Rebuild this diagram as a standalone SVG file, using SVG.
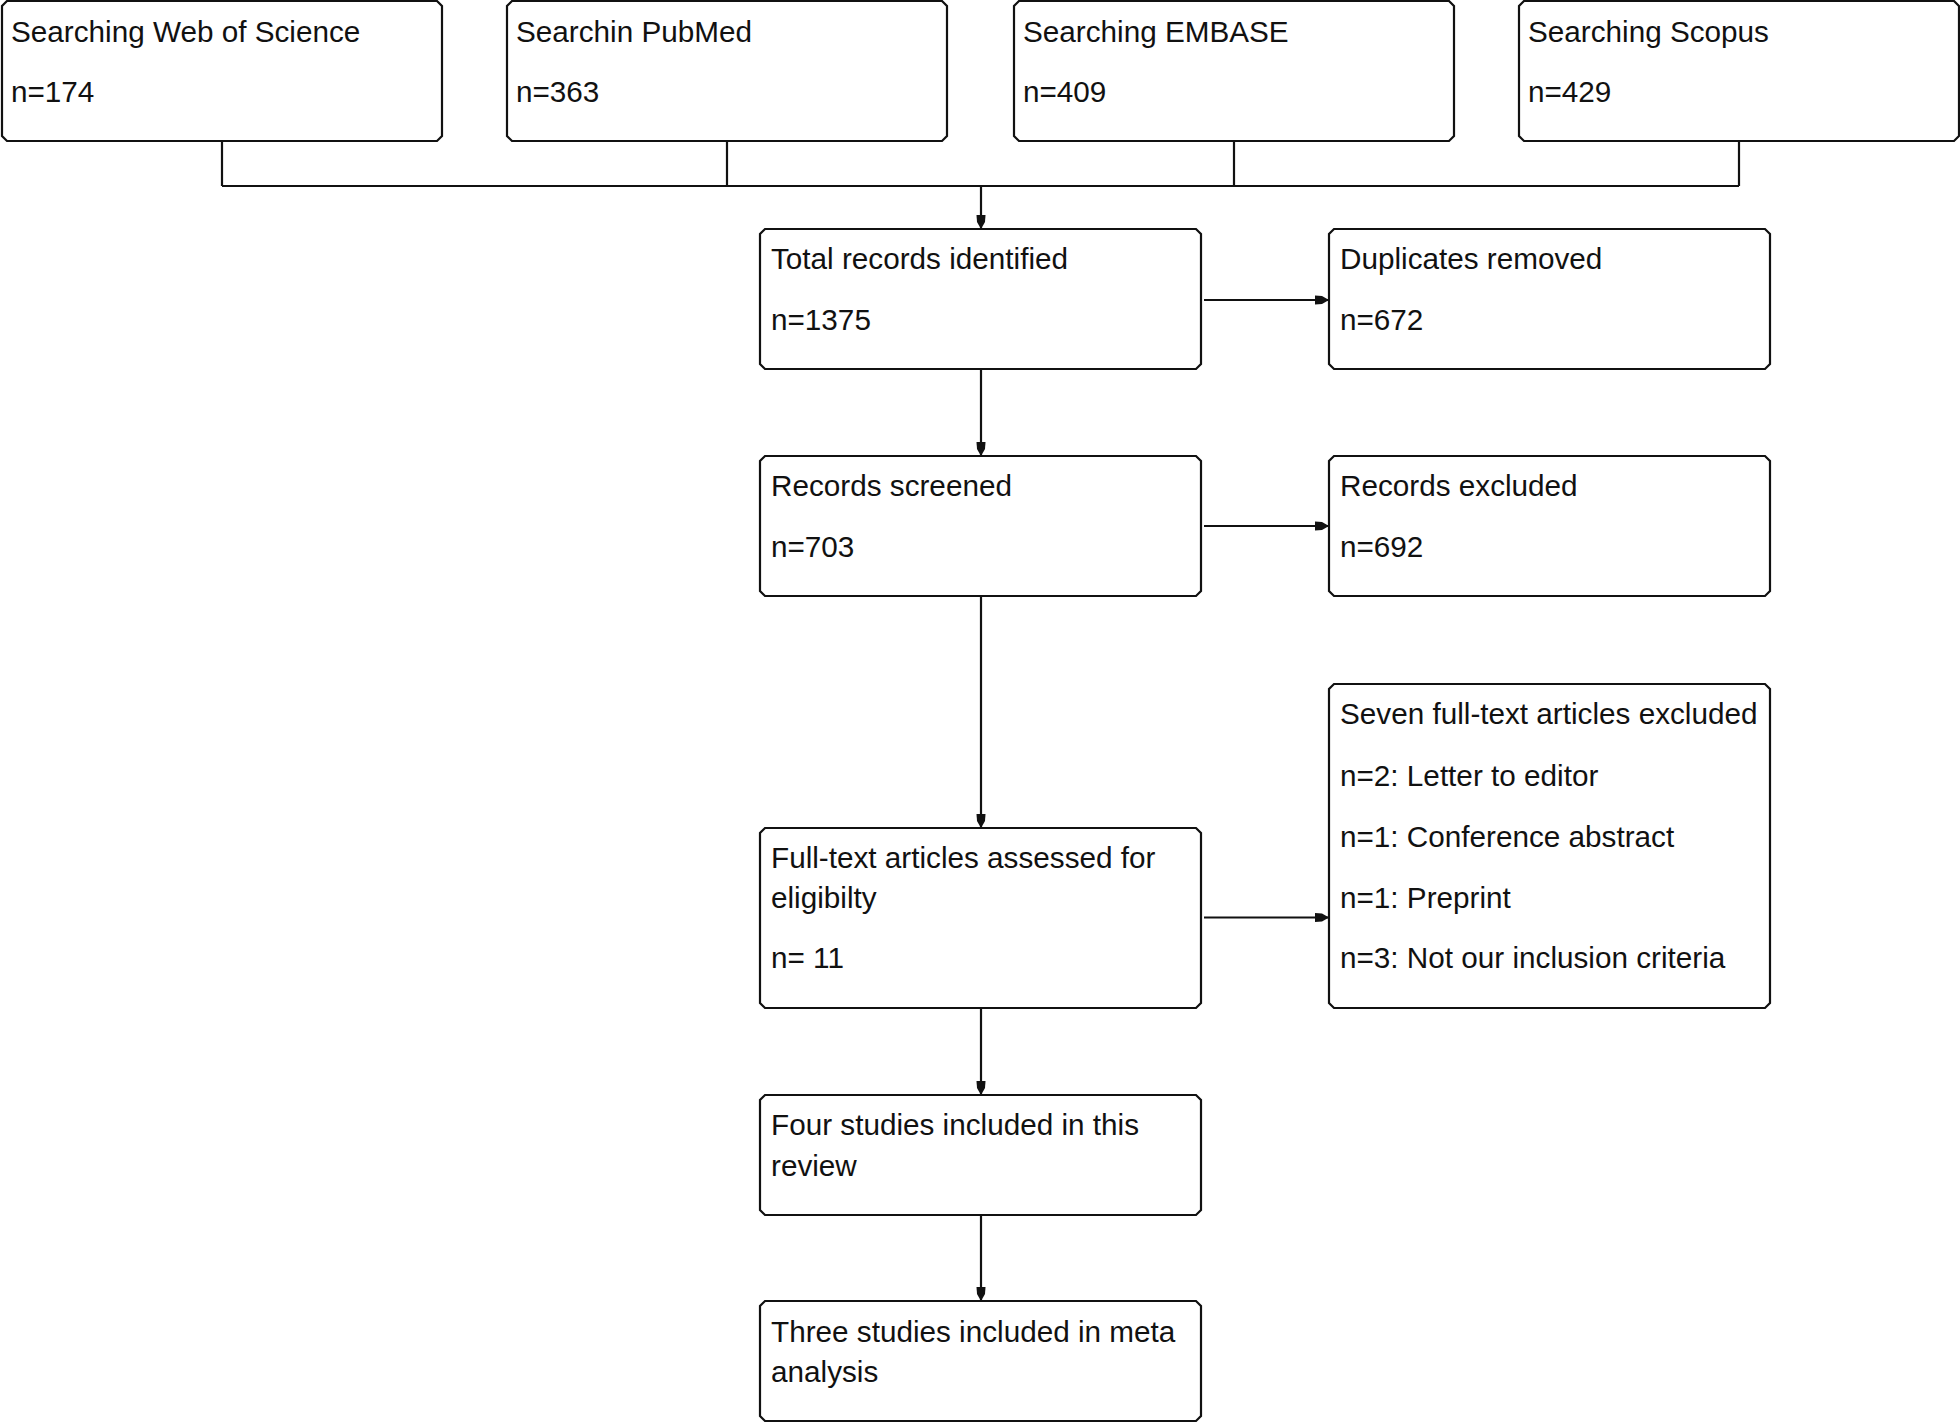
<svg xmlns="http://www.w3.org/2000/svg" width="1960" height="1423" viewBox="0 0 1960 1423">
  <style>
    .box { fill: #ffffff; stroke: #111111; stroke-width: 2.2; stroke-linejoin: miter; }
    .conn { fill: none; stroke: #111111; stroke-width: 2.2; }
    text { font-family: "Liberation Sans", Arial, sans-serif; font-size: 29.7px; fill: #111111; }
  </style>
  <defs>
    <marker id="arrow" markerUnits="userSpaceOnUse" viewBox="0 0 16 10" refX="16" refY="5" markerWidth="16" markerHeight="10" orient="auto">
      <path d="M2,0.5 L9,1 L16,5 L9,9 L2,9.5 Z" fill="#111111"/>
    </marker>
  </defs>
  <rect width="1960" height="1423" fill="#ffffff"/>

  <g id="connectors">
    <path class="conn" d="M222,141 V186 M727,141 V186 M1234,141 V186 M1739,141 V186 M222,186 H1739"/>
    <path class="conn" d="M981,186 V229" marker-end="url(#arrow)"/>
    <path class="conn" d="M1204,300 H1329" marker-end="url(#arrow)"/>
    <path class="conn" d="M981,369 V456" marker-end="url(#arrow)"/>
    <path class="conn" d="M1204,526 H1329" marker-end="url(#arrow)"/>
    <path class="conn" d="M981,596 V828" marker-end="url(#arrow)"/>
    <path class="conn" d="M1204,917.5 H1329" marker-end="url(#arrow)"/>
    <path class="conn" d="M981,1008 V1095" marker-end="url(#arrow)"/>
    <path class="conn" d="M981,1215 V1301" marker-end="url(#arrow)"/>
  </g>

  <g id="wos">
    <path class="box" d="M7,1 H437 L442,6 V136 L437,141 H7 L2,136 V6 Z"/>
    <text x="11" y="42">Searching Web of Science</text>
    <text x="11" y="102">n=174</text>
  </g>
  <g id="pubmed">
    <path class="box" d="M512,1 H942 L947,6 V136 L942,141 H512 L507,136 V6 Z"/>
    <text x="516" y="42">Searchin PubMed</text>
    <text x="516" y="102">n=363</text>
  </g>
  <g id="embase">
    <path class="box" d="M1019,1 H1449 L1454,6 V136 L1449,141 H1019 L1014,136 V6 Z"/>
    <text x="1023" y="42">Searching EMBASE</text>
    <text x="1023" y="102">n=409</text>
  </g>
  <g id="scopus">
    <path class="box" d="M1524,1 H1954 L1959,6 V136 L1954,141 H1524 L1519,136 V6 Z"/>
    <text x="1528" y="42">Searching Scopus</text>
    <text x="1528" y="102">n=429</text>
  </g>

  <g id="total">
    <path class="box" d="M765,229 H1196 L1201,234 V364 L1196,369 H765 L760,364 V234 Z"/>
    <text x="771" y="269">Total records identified</text>
    <text x="771" y="330">n=1375</text>
  </g>
  <g id="duplicates">
    <path class="box" d="M1334,229 H1765 L1770,234 V364 L1765,369 H1334 L1329,364 V234 Z"/>
    <text x="1340" y="269">Duplicates removed</text>
    <text x="1340" y="330">n=672</text>
  </g>

  <g id="screened">
    <path class="box" d="M765,456 H1196 L1201,461 V591 L1196,596 H765 L760,591 V461 Z"/>
    <text x="771" y="496">Records screened</text>
    <text x="771" y="557">n=703</text>
  </g>
  <g id="excluded">
    <path class="box" d="M1334,456 H1765 L1770,461 V591 L1765,596 H1334 L1329,591 V461 Z"/>
    <text x="1340" y="496">Records excluded</text>
    <text x="1340" y="557">n=692</text>
  </g>

  <g id="fulltext">
    <path class="box" d="M765,828 H1196 L1201,833 V1003 L1196,1008 H765 L760,1003 V833 Z"/>
    <text x="771" y="868">Full-text articles assessed for</text>
    <text x="771" y="908">eligibilty</text>
    <text x="771" y="968">n= 11</text>
  </g>
  <g id="seven">
    <path class="box" d="M1334,684 H1765 L1770,689 V1003 L1765,1008 H1334 L1329,1003 V689 Z"/>
    <text x="1340" y="724">Seven full-text articles excluded</text>
    <text x="1340" y="785.5">n=2: Letter to editor</text>
    <text x="1340" y="846.5">n=1: Conference abstract</text>
    <text x="1340" y="907.5">n=1: Preprint</text>
    <text x="1340" y="968">n=3: Not our inclusion criteria</text>
  </g>

  <g id="four">
    <path class="box" d="M765,1095 H1196 L1201,1100 V1210 L1196,1215 H765 L760,1210 V1100 Z"/>
    <text x="771" y="1135">Four studies included in this</text>
    <text x="771" y="1176">review</text>
  </g>
  <g id="three">
    <path class="box" d="M765,1301 H1196 L1201,1306 V1416 L1196,1421 H765 L760,1416 V1306 Z"/>
    <text x="771" y="1342">Three studies included in meta</text>
    <text x="771" y="1382">analysis</text>
  </g>
</svg>
